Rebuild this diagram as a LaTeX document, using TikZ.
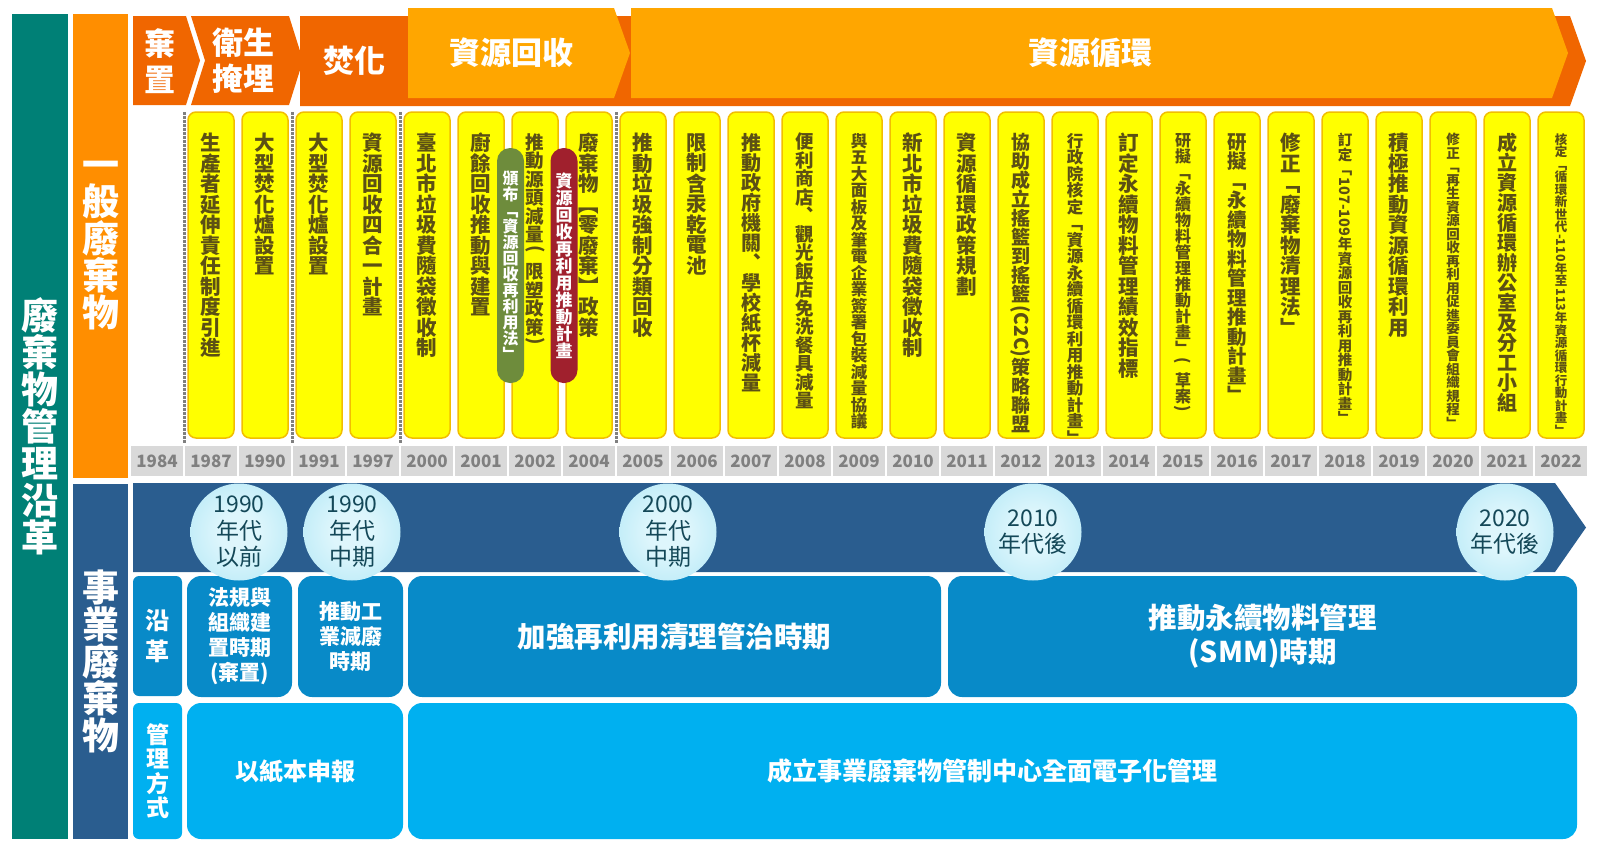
\documentclass[tikz,border=0pt]{standalone}
\usepackage{fontspec}
\setmainfont{Noto Sans CJK TC}
\usepackage{graphicx}
\usetikzlibrary{positioning}

\definecolor{mgmtteal}{RGB}{0,128,118}
\definecolor{genorange}{RGB}{255,142,0}
\definecolor{indnavy}{RGB}{42,93,143}
\definecolor{chevdark}{RGB}{240,102,0}
\definecolor{chevlight}{RGB}{255,166,0}
\definecolor{eventfill}{RGB}{255,255,0}
\definecolor{eventedge}{RGB}{242,190,0}
\definecolor{eventtext}{RGB}{92,80,20}
\definecolor{yeargray}{RGB}{217,217,217}
\definecolor{yeartext}{RGB}{128,128,128}
\definecolor{pillgreen}{RGB}{110,140,60}
\definecolor{pillred}{RGB}{160,32,45}
\definecolor{erablue}{RGB}{8,138,200}
\definecolor{wayblue}{RGB}{0,176,240}
\definecolor{bubbletext}{RGB}{20,72,88}
\definecolor{bubin}{RGB}{222,246,252}
\definecolor{bubmid}{RGB}{185,234,247}
\definecolor{bubedge}{RGB}{150,220,240}
\definecolor{bubrim}{RGB}{185,235,248}

\pgfdeclareradialshading{bubble}{\pgfpoint{0bp}{0bp}}{color(0bp)=(bubin); color(10bp)=(bubin); color(32bp)=(bubmid); color(46bp)=(bubedge); color(50bp)=(bubrim)}

\def\vtext#1{\expandafter\vfirst#1\relax}
\def\vfirst#1{#1\vrest}
\def\vrest#1{\ifx\relax#1\else\\#1\expandafter\vrest\fi}
\newcommand\turnnum[1]{\raisebox{.8em}{\rotatebox{-90}{#1}}}

\tikzset{%
  group label/.style={
    text=white,
    align=center,
    inner sep=0,
    font=\fontsize{37}{37}\selectfont\bfseries
  },
  phase text/.style={
    text=white,
    align=center,
    inner sep=0,
    font=\fontsize{31}{36}\selectfont\bfseries
  },
  year cell/.style={
    fill=yeargray,
    text=yeartext,
    minimum width=52,
    minimum height=30,
    inner sep=0,
    font=\fontsize{17}{17}\selectfont\bfseries
  },
  event box/.style={
    draw=eventedge,
    line width=1.5,
    fill=eventfill,
    rounded corners=8,
    minimum width=46,
    minimum height=326,
    inner sep=0
  },
  event text/.style={
    text=eventtext,
    align=center,
    inner sep=0,
    anchor=north
  },
  phase line/.style={
    draw=yeartext,
    line width=3,
    dash pattern=on 2.5pt off 1.5pt
  },
  pill/.style={
    rounded corners=13,
    minimum width=27,
    minimum height=235,
    inner sep=0,
    text=white,
    align=center
  },
  side label/.style={
    rounded corners=6,
    minimum width=49,
    inner sep=0,
    text=white,
    align=center
  },
  era box/.style={
    fill=erablue,
    rounded corners=14,
    text=white,
    align=center,
    inner sep=0,
    font=\fontsize{21}{25}\selectfont\bfseries
  },
  way box/.style={
    fill=wayblue,
    rounded corners=14,
    text=white,
    align=center,
    inner sep=0
  },
  bubble/.style={
    circle,
    minimum size=97,
    inner sep=0,
    shading=bubble,
    text=bubbletext,
    align=center,
    font=\fontsize{23}{26.5}\selectfont
  },
}

\begin{document}
\begin{tikzpicture}[x=1pt, y=-1pt]
\useasboundingbox (0,0) rectangle (1600,854);

\node [group label, fill=mgmtteal, minimum width=56, minimum height=825] (mgmt) at (40,426.5) {\vtext{廢棄物管理沿革}};
\node [group label, fill=genorange, minimum width=55, minimum height=464] (general) at (100.5,246) {\vtext{一般廢棄物}};
\node [group label, fill=indnavy, minimum width=55, minimum height=355] (industrial) at (100.5,661.5) {\vtext{事業廢棄物}};

\fill [chevdark] (300,16) -- (1570,16) -- (1586,61) -- (1570,106) -- (300,106) -- cycle;
\fill [chevdark] (133,16) -- (186,16) -- (200,60.5) -- (186,105) -- (133,105) -- cycle;
\fill [chevdark] (191,16) -- (289,16) -- (303,60.5) -- (289,105) -- (191,105) -- (205,60.5) -- cycle;
\fill [chevlight] (408,8) -- (614,8) -- (630,53) -- (614,98) -- (408,98) -- cycle;
\fill [chevlight] (631,8) -- (1552,8) -- (1568,53) -- (1552,98) -- (631,98) -- cycle;

\node [phase text] (phase-dump) at (160,61) {棄\\置};
\node [phase text] (phase-landfill) at (243,61) {衛生\\掩埋};
\node [phase text] (phase-burn) at (354,61) {焚化};
\node [phase text] (phase-recycle) at (511,53) {資源回收};
\node [phase text] (phase-circular) at (1090,53) {資源循環};

\foreach \yr [count=\i from 0] in {1984,1987,1990,1991,1997,2000,2001,2002,2004,2005,2006,2007,2008,2009,2010,2011,2012,2013,2014,2015,2016,2017,2018,2019,2020,2021,2022}
  \node [year cell] (year-\yr) at ({157+54*\i},461) {\yr};

\foreach \x in {184,292,400,616}
  \draw [phase line] (\x,112) -- (\x,444);

\foreach \txt/\sz [count=\i] in {生產者延伸責任制度引進/20.5,
  大型焚化爐設置/20.5,
  大型焚化爐設置/20.5,
  資源回收四合一計畫/20.5,
  臺北市垃圾費隨袋徵收制/20.5,
  廚餘回收推動與建置/20.5,
  推動源頭減量{\turnnum{(}}限塑政策{\turnnum{)}}/18.5,
  廢棄物︻零廢棄︼政策/20.5,
  推動垃圾強制分類回收/20.5,
  限制含汞乾電池/20.5,
  推動政府機關︑學校紙杯減量/20,
  便利商店︑觀光飯店免洗餐具減量/18.5,
  與五大面板及筆電企業簽署包裝減量協議/16.5,
  新北市垃圾費隨袋徵收制/20.5,
  資源循環政策規劃/20.5,
  協助成立搖籃到搖籃{\turnnum{(C2C)}}策略聯盟/19,
  行政院核定﹁資源永續循環利用推動計畫﹂/16.5,
  訂定永續物料管理績效指標/20.5,
  研擬﹁永續物料管理推動計畫﹂{\turnnum{(}}草案{\turnnum{)}}/16,
  研擬﹁永續物料管理推動計畫﹂/19.5,
  修正﹁廢棄物清理法﹂/20.5,
  訂定﹁{\turnnum{107-109}}年資源回收再利用推動計畫﹂/14.5,
  積極推動資源循環利用/20.5,
  修正﹁再生資源回收再利用促進委員會組織規程﹂/13.5,
  成立資源循環辦公室及分工小組/20,
  核定﹁循環新世代{\turnnum{-110}}年至{\turnnum{113}}年資源循環行動計畫﹂/12.5}
{
  \node [event box] (event-\i) at ({157+54*\i},275) {};
  \node [event text, font={\fontsize{\sz}{\sz}\selectfont\bfseries}] (event-text-\i) at ({157+54*\i},133) {\vtext{\txt}};
}

\node [pill, fill=pillgreen, font=\fontsize{16}{16}\selectfont\bfseries] (law-pill) at (510.5,265.5) {\vtext{頒布﹁資源回收再利用法﹂}};
\node [pill, fill=pillred, font=\fontsize{17}{17}\selectfont\bfseries] (plan-pill) at (564,265.5) {\vtext{資源回收再利用推動計畫}};

\fill [indnavy] (133,483) -- (1555,483) -- (1586,527.5) -- (1555,572) -- (133,572) -- cycle;

\node [side label, fill=erablue, minimum height=120, font=\fontsize{24}{31}\selectfont\bfseries] (era-label) at (157.5,636) {\vtext{沿革}};
\node [era box, minimum width=105, minimum height=121] (era-1) at (239.5,636.5) {法規與\\組織建\\置時期\\(棄置)};
\node [era box, minimum width=105, minimum height=121] (era-2) at (350.5,636.5) {推動工\\業減廢\\時期};
\node [era box, minimum width=533, minimum height=121, font=\fontsize{28.5}{34}\selectfont\bfseries] (era-3) at (674.5,636.5) {加強再利用清理管治時期};
\node [era box, minimum width=629, minimum height=121, font=\fontsize{28.5}{34}\selectfont\bfseries] (era-4) at (1262.5,636.5) {推動永續物料管理\\(SMM)時期};

\node [side label, fill=wayblue, minimum height=136, font=\fontsize{23}{24.5}\selectfont\bfseries] (way-label) at (157.5,771) {\vtext{管理方式}};
\node [way box, minimum width=216, minimum height=136, font=\fontsize{24}{24}\selectfont\bfseries] (way-1) at (295,771) {以紙本申報};
\node [way box, minimum width=1169, minimum height=136, font=\fontsize{25}{25}\selectfont\bfseries] (way-2) at (992.5,771) {成立事業廢棄物管制中心全面電子化管理};

\foreach \x/\l [count=\i] in {239/1990\\年代\\以前, 352/1990\\年代\\中期, 668/2000\\年代\\中期, 1033/2010\\年代後, 1505/2020\\年代後}
  \node [bubble] (decade-\i) at (\x,532) {\l};
\end{tikzpicture}
\end{document}
